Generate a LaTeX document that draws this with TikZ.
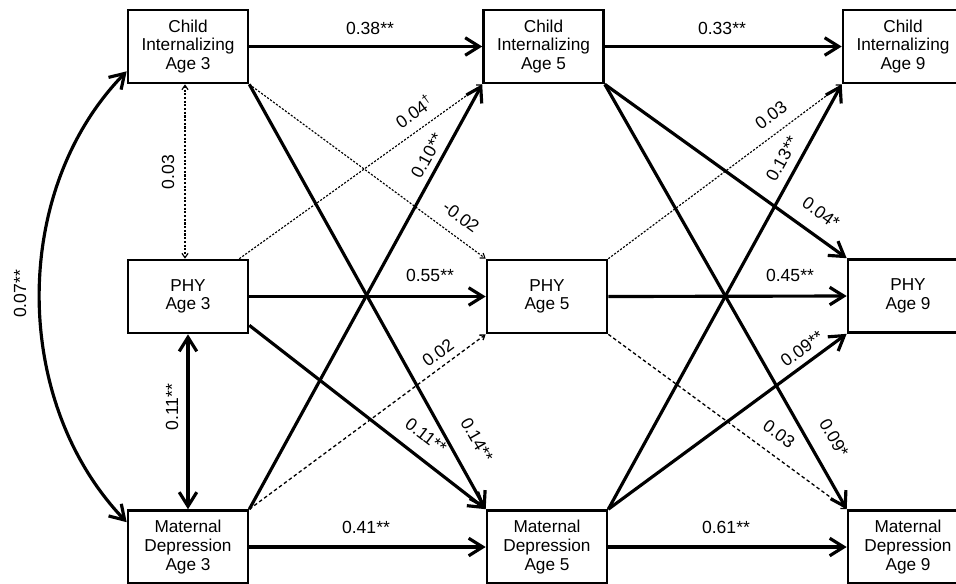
\documentclass[tikz,border=0pt]{standalone}
\usepackage{fontspec}
\setmainfont{Liberation Sans}
\usetikzlibrary{arrows.meta,calc}
\begin{document}
\begin{tikzpicture}[x=0.02cm,y=-0.02cm,
  box/.style={draw,line width=1.5pt,minimum width=2.4cm,minimum height=1.46cm,align=center,inner sep=0pt,font=\fontsize{9.8}{10.6}\selectfont},
  solidarr/.style={line width=1.8pt,-{Straight Barb[length=8pt,width=10pt]}},
  soliddbl/.style={line width=1.8pt,{Straight Barb[length=8pt,width=10pt]}-{Straight Barb[length=8pt,width=10pt]}},
  dotarr/.style={line width=0.65pt,dash pattern=on 1.2pt off 0.9pt,-{Straight Barb[length=2.5pt,width=3.5pt]}},
  dotdbl/.style={line width=0.65pt,dash pattern=on 1.2pt off 0.9pt,{Straight Barb[length=2.5pt,width=3.5pt]}-{Straight Barb[length=2.5pt,width=3.5pt]}},
  dasharr/.style={line width=0.75pt,dash pattern=on 2pt off 1.5pt,-{Straight Barb[length=2.5pt,width=3.5pt]}},
  lab/.style={font=\fontsize{10}{12}\selectfont,inner sep=0pt}
]
\useasboundingbox (0,0) rectangle (956,583);

% boxes
\node[box] (CI3) at (188,46.5) {Child\\Internalizing\\Age 3};
\node[box] (CI5) at (543.5,46.5) {Child\\Internalizing\\Age 5};
\node[box] (CI9) at (903,46.5) {Child\\Internalizing\\Age 9};
\node[box] (PHY3) at (188,296.5) {PHY\\Age 3};
\node[box] (PHY5) at (547,296.5) {PHY\\Age 5};
\node[box] (PHY9) at (908,296) {PHY\\Age 9};
\node[box] (MD3) at (188,547) {Maternal\\Depression\\Age 3};
\node[box] (MD5) at (547,547) {Maternal\\Depression\\Age 5};
\node[box] (MD9) at (908,547) {Maternal\\Depression\\Age 9};

% auxiliary points
\coordinate (p3a) at ([yshift=0.18cm]PHY3.south east);
\coordinate (p3b) at ([xshift=-0.2cm]PHY3.north east);
\coordinate (c3t) at ([yshift=0.26cm]CI3.south west);
\coordinate (m3t) at ([yshift=-0.26cm]MD3.north west);
\coordinate (v1a) at ([xshift=-0.06cm]CI3.south);
\coordinate (v1b) at ([xshift=-0.06cm]PHY3.north);

% horizontal paths
\draw[solidarr] (CI3.east) -- (CI5.west);
\draw[solidarr] (CI5.east) -- (CI9.west);
\draw[solidarr] (PHY3.east) -- (PHY5.west);
\draw[solidarr] (PHY5.east) -- (PHY9.west);
\draw[solidarr] (MD3.east) -- (MD5.west);
\draw[solidarr] (MD5.east) -- (MD9.west);

% cross-lagged, 3 -> 5
\draw[solidarr] (CI3.south east) -- (MD5.north west);
\draw[solidarr] (MD3.north east) -- (CI5.south west);
\draw[solidarr] (p3a) -- (MD5.north west);
\draw[dotarr] (CI3.south east) -- (PHY5.north west);
\draw[dotarr] (p3b) -- (CI5.south west);
\draw[dasharr] (MD3.north east) -- (PHY5.south west);

% cross-lagged, 5 -> 9
\draw[solidarr] (CI5.south east) -- (PHY9.north west);
\draw[solidarr] (CI5.south east) -- (MD9.north west);
\draw[solidarr] (MD5.north east) -- (CI9.south west);
\draw[solidarr] (MD5.north east) -- (PHY9.south west);
\draw[dotarr] (PHY5.north east) -- (CI9.south west);
\draw[dasharr] (PHY5.south east) -- (MD9.north west);

% covariances at age 3
\draw[dotdbl] (v1a) -- (v1b);
\draw[soliddbl] (PHY3.south) -- (MD3.north);
\draw[soliddbl] (c3t) .. controls (11,190) and (11,401) .. (m3t);

% labels
\node[lab] (l1) at (370,28) {0.38**};
\node[lab] (l2) at (722,28) {0.33**};
\node[lab] (l3) at (430,275) {0.55**};
\node[lab] (l4) at (790,275) {0.45**};
\node[lab] (l5) at (366,527) {0.41**};
\node[lab] (l6) at (726,527) {0.61**};

\node[lab,rotate=-60.6] (l7) at (477,440) {0.14**};
\node[lab,rotate=61] (l8) at (427,156) {0.10**};
\node[lab,rotate=-37.4] (l9) at (426,436) {0.11**};
\node[lab,rotate=-36.5] (l10) at (461,217) {-0.02};
\node[lab,rotate=35.7] (l11) at (414,111) {0.04\textsuperscript{†}};
\node[lab,rotate=36.2] (l12) at (438,353) {0.02};

\node[lab,rotate=-35.8] (l13) at (821,213) {0.04*};
\node[lab,rotate=-60] (l14) at (834,438) {0.09*};
\node[lab,rotate=61] (l15) at (782,159) {0.13**};
\node[lab,rotate=36] (l16) at (802,349) {0.09**};
\node[lab,rotate=37] (l17) at (771,115) {0.03};
\node[lab,rotate=-36] (l18) at (779,434) {0.03};

\node[lab,rotate=90] (l19) at (168,172) {0.03};
\node[lab,rotate=90] (l20) at (172,407) {0.11**};
\node[lab,rotate=90] (l21) at (20,294) {0.07**};
\end{tikzpicture}
\end{document}
